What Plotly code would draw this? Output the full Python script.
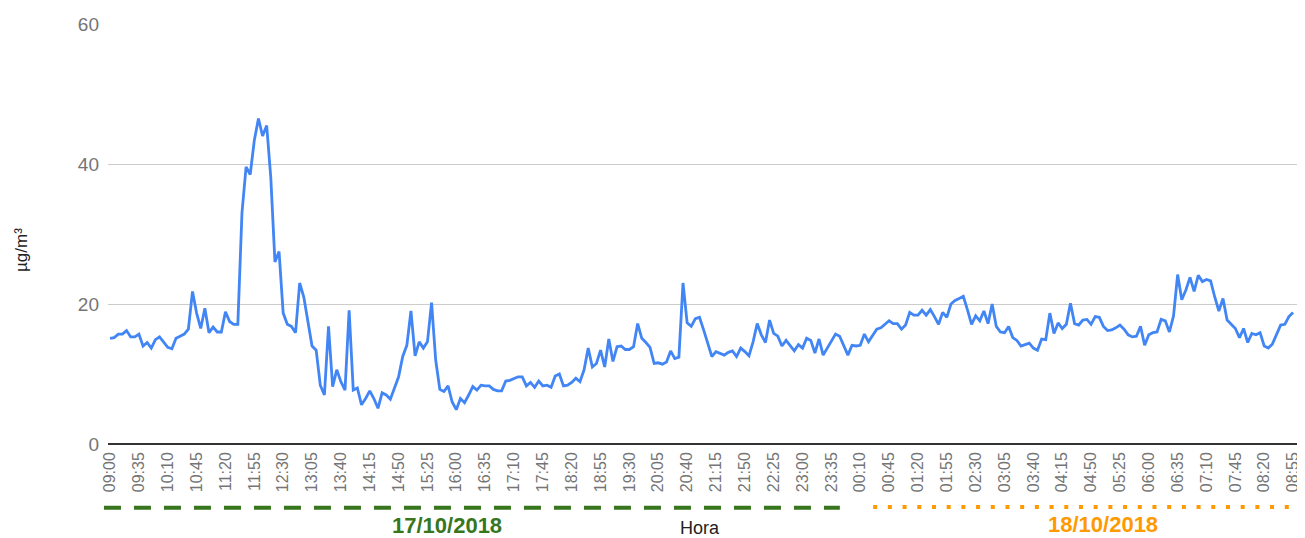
import plotly.graph_objects as go
import pandas as pd

# ---- data ----
times = [t.strftime("%H:%M") for t in pd.date_range("2018-10-17 09:00", "2018-10-18 08:55", freq="5min")]

values = [
    15.1, 15.2, 15.7, 15.7, 16.2, 15.3, 15.3, 15.7, 14.0, 14.5,
    13.7, 14.9, 15.3, 14.5, 13.8, 13.6, 15.1, 15.4, 15.7, 16.4,
    21.8, 18.7, 16.5, 19.4, 15.9, 16.7, 16.0, 16.0, 18.9, 17.5,
    17.1, 17.1, 33.0, 39.6, 38.5, 43.4, 46.5, 44.0, 45.5, 38.0,
    26.0, 27.5, 18.7, 17.1, 16.8, 15.9, 23.0, 21.0, 17.7, 14.0,
    13.4, 8.4, 7.0, 16.8, 8.2, 10.6, 8.9, 7.7, 19.1, 7.7,
    8.0, 5.6, 6.5, 7.6, 6.5, 5.1, 7.3, 7.0, 6.4, 8.0,
    9.6, 12.5, 14.1, 19.0, 12.6, 14.6, 13.7, 14.6, 20.2, 12.0,
    7.8, 7.5, 8.3, 6.0, 4.9, 6.5, 5.9, 7.0, 8.2, 7.7,
    8.4, 8.3, 8.3, 7.8, 7.6, 7.6, 9.0, 9.1, 9.4, 9.6,
    9.6, 8.3, 8.8, 8.1, 9.0, 8.3, 8.4, 8.1, 9.7, 10.0,
    8.3, 8.4, 8.8, 9.4, 8.9, 10.6, 13.7, 11.0, 11.5, 13.4,
    11.0, 15.0, 11.8, 13.9, 14.0, 13.5, 13.5, 13.9, 17.2, 15.1,
    14.5, 13.8, 11.5, 11.6, 11.4, 11.7, 13.3, 12.2, 12.4, 23.0,
    17.3, 16.8, 17.9, 18.1, 16.3, 14.4, 12.5, 13.2, 13.0, 12.7,
    13.1, 13.3, 12.5, 13.7, 13.2, 12.6, 14.6, 17.2, 15.6, 14.5,
    17.7, 15.8, 15.4, 14.0, 14.8, 14.0, 13.3, 14.2, 13.7, 15.1,
    14.8, 13.0, 15.0, 12.7, 13.7, 14.6, 15.7, 15.4, 14.1, 12.7,
    14.1, 14.0, 14.1, 15.7, 14.6, 15.6, 16.4, 16.6, 17.1, 17.6,
    17.2, 17.2, 16.4, 17.0, 18.8, 18.4, 18.4, 19.1, 18.4, 19.2,
    18.2, 17.1, 18.8, 18.1, 20.0, 20.5, 20.8, 21.1, 19.2, 17.1,
    18.3, 17.6, 19.0, 17.2, 20.0, 16.8, 16.0, 15.9, 16.8, 15.2,
    14.8, 14.0, 14.2, 14.4, 13.7, 13.4, 15.0, 14.9, 18.7, 15.8,
    17.3, 16.5, 17.1, 20.1, 17.2, 17.0, 17.7, 17.8, 17.1, 18.2,
    18.1, 16.8, 16.2, 16.3, 16.6, 17.0, 16.4, 15.6, 15.3, 15.4,
    16.8, 14.1, 15.6, 15.9, 16.0, 17.8, 17.6, 16.0, 18.3, 24.2,
    20.6, 22.0, 23.8, 21.8, 24.1, 23.2, 23.5, 23.3, 21.0, 19.0,
    20.8, 17.7, 17.1, 16.5, 15.2, 16.5, 14.5, 15.8, 15.6, 15.9,
    14.0, 13.7, 14.3, 15.6, 17.0, 17.1, 18.2, 18.8,
]

tick_labels = times[::7]
y_ticks = [0, 20, 40, 60]
x_title = "Hora"
y_title = "µg/m³"
day1_label = "17/10/2018"
day2_label = "18/10/2018"

FONT = "Liberation Sans, Arial, sans-serif"

fig = go.Figure()
fig.add_trace(go.Scatter(
    x=times, y=values, mode="lines",
    line=dict(color="#4285f4", width=2.8),
    hoverinfo="x+y", showlegend=False,
))

# page body has an 8px default margin, so the figure is sized to fit the window
fig.update_layout(
    width=1297, height=530,
    margin=dict(l=100, r=7, t=16, b=94),
    paper_bgcolor="white", plot_bgcolor="white",
    font=dict(family=FONT),
    xaxis=dict(
        type="category", range=[-0.5, len(times) + 0.2],
        tickmode="array", tickvals=tick_labels, ticktext=tick_labels,
        tickangle=-90, tickfont=dict(size=16, color="#757575"),
        showgrid=False, showline=False, ticks="", ticklabelstandoff=4,
        automargin=False,
    ),
    yaxis=dict(
        range=[0, 60], tickmode="array", tickvals=y_ticks,
        tickfont=dict(size=19, color="#757575"),
        gridcolor="#cccccc", gridwidth=1,
        zeroline=True, zerolinecolor="#333333", zerolinewidth=1.5,
        showline=False, ticks="", ticklabelstandoff=8,
        automargin=False,
    ),
    annotations=[
        dict(text=y_title, xref="paper", yref="paper", x=-0.0723, y=0.462,
             textangle=-90, showarrow=False, font=dict(size=17, color="#222222"),
             xanchor="center", yanchor="middle"),
        dict(text=x_title, xref="paper", yref="paper", x=0.4975, y=-0.200,
             showarrow=False, font=dict(size=18, color="#222222"),
             xanchor="center", yanchor="middle"),
        dict(text="<b>%s</b>" % day1_label, xref="paper", yref="paper", x=0.285, y=-0.193,
             showarrow=False, font=dict(size=22, color="#38761d"),
             xanchor="center", yanchor="middle"),
        dict(text="<b>%s</b>" % day2_label, xref="paper", yref="paper", x=0.836, y=-0.191,
             showarrow=False, font=dict(size=22, color="#ff9900"),
             xanchor="center", yanchor="middle"),
    ],
    shapes=[
        dict(type="line", xref="paper", yref="paper", x0=-0.0034, x1=0.615, y0=-0.152, y1=-0.152,
             line=dict(color="#38761d", width=4, dash="17px,13px")),
        dict(type="line", xref="paper", yref="paper", x0=0.643, x1=0.993, y0=-0.150, y1=-0.150,
             line=dict(color="#ff9900", width=4, dash="4px,10.7px")),
    ],
)

fig.write_html("out.html")
